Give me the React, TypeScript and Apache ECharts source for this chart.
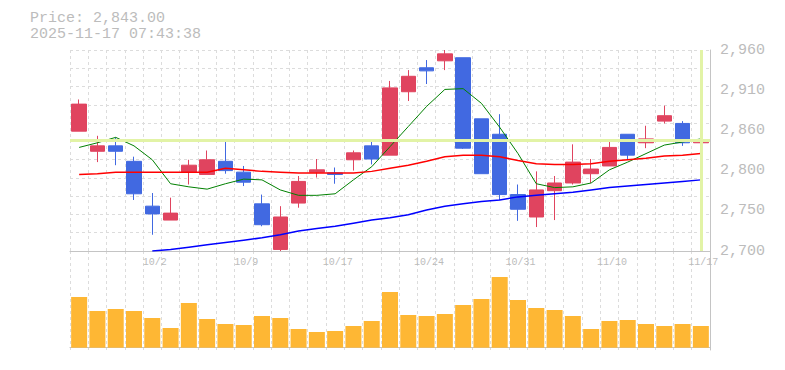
import React, { useEffect, useRef } from 'react';
import * as echarts from 'echarts';

const headerPrice = 'Price: 2,843.00';
const headerTime = '2025-11-17 07:43:38';

const dates = [
  '9/26', '9/29', '9/30', '10/1', '10/2', '10/3', '10/6', '10/7', '10/8', '10/9',
  '10/10', '10/14', '10/15', '10/16', '10/17', '10/20', '10/21', '10/22', '10/23', '10/24',
  '10/27', '10/28', '10/29', '10/30', '10/31', '11/4', '11/5', '11/6', '11/7', '11/10',
  '11/11', '11/12', '11/13', '11/14', '11/17',
];

const opens = [
  2855, 2829, 2836, 2816, 2758, 2740, 2802, 2799, 2816, 2802,
  2761, 2702, 2762, 2802, 2801, 2818, 2836, 2824, 2906, 2937,
  2946, 2950, 2871, 2851, 2773, 2744, 2778, 2788, 2800, 2810,
  2851, 2840, 2868, 2865, 2840,
];
const closes = [
  2890, 2836, 2829, 2774, 2748, 2749, 2811, 2818, 2804, 2789,
  2734, 2744, 2790, 2805, 2799, 2827, 2819, 2911, 2926, 2933,
  2955, 2833, 2800, 2773, 2754, 2779, 2788, 2815, 2806, 2834,
  2824, 2845, 2875, 2840, 2843,
];
const lows = [
  2855, 2815, 2811, 2766, 2721, 2740, 2786, 2799, 2800, 2784,
  2732, 2700, 2756, 2795, 2787, 2804, 2812, 2824, 2894, 2916,
  2934, 2832, 2800, 2766, 2739, 2731, 2740, 2786, 2788, 2810,
  2818, 2833, 2865, 2836, 2837,
];
const highs = [
  2896, 2849, 2847, 2822, 2775, 2769, 2818, 2830, 2841, 2810,
  2773, 2758, 2797, 2819, 2808, 2830, 2844, 2920, 2934, 2947,
  2960, 2950, 2871, 2877, 2786, 2803, 2797, 2838, 2819, 2843,
  2851, 2862, 2888, 2868, 2856,
];

const ma5 = [
  2834, 2840, 2847, 2836, 2818, 2787, 2783, 2780, 2787, 2793,
  2792, 2779, 2772, 2772, 2774, 2792, 2809, 2835, 2861, 2887,
  2909, 2910, 2891, 2860, 2826, 2787, 2782, 2783, 2788, 2805,
  2815, 2826, 2837, 2841, 2845,
];
const ma25 = [
  2799, 2800, 2802, 2802, 2802, 2802, 2802, 2802, 2807, 2805,
  2803, 2802, 2801, 2801, 2801, 2801, 2803, 2807, 2811, 2816,
  2822, 2824, 2824, 2822, 2817, 2813, 2812, 2812, 2813, 2816,
  2818, 2820, 2823, 2824, 2826,
];
const ma75 = [
  null, null, null, null, 2700, 2702, 2705, 2708, 2711, 2714,
  2717, 2721, 2726, 2729, 2732, 2736, 2740, 2743, 2747, 2753,
  2758, 2761, 2764, 2766, 2770, 2772, 2774, 2776, 2779, 2782,
  2784, 2786, 2788, 2790, 2792,
];

const volumes = [
  507, 367, 387, 367, 297, 197, 447, 287, 237, 227,
  317, 297, 187, 157, 167, 217, 267, 557, 327, 317,
  337, 427, 487, 707, 477, 397, 377, 317, 187, 267,
  277, 237, 217, 237, 217,
];

const currentPrice = 2843;
const currentDate = '11/17';
const priceMin = 2700;
const priceMax = 2960;
const priceTickValues = [2700, 2752, 2804, 2856, 2908, 2960];

export default function App() {
  const ref = useRef<HTMLDivElement>(null);

  useEffect(() => {
    if (!ref.current) return;
    const chart = echarts.init(ref.current, null, { renderer: 'svg' });
    const font = 'Liberation Mono';
    const textGray = '#bcbcbc';
    const gridColor = '#dcdcdc';
    const axisColor = '#c4c4c4';
    const up = '#e0445f';
    const down = '#4169e1';
    const ohlc = dates.map((_, i) => [opens[i], closes[i], lows[i], highs[i]]);
    const dashed = { show: true, interval: 0, lineStyle: { color: gridColor, type: [3, 3], width: 1 } };

    chart.setOption({
      animation: false,
      title: {
        left: 30,
        top: 11,
        padding: 0,
        itemGap: 1,
        text: headerPrice,
        subtext: headerTime,
        textStyle: { fontFamily: font, fontSize: 15, fontWeight: 'normal', color: textGray, lineHeight: 15 },
        subtextStyle: { fontFamily: font, fontSize: 15, fontWeight: 'normal', color: textGray, lineHeight: 15 },
      },
      grid: [
        { left: 70, top: 50, width: 640, height: 201 },
        { left: 70, top: 251, width: 640, height: 99 },
      ],
      xAxis: [
        {
          type: 'category',
          gridIndex: 0,
          data: dates,
          boundaryGap: true,
          axisLine: { show: true, lineStyle: { color: axisColor } },
          axisTick: { show: false },
          axisLabel: {
            interval: (i: number) => i % 5 === 4,
            color: textGray,
            fontFamily: font,
            fontSize: 10,
            margin: 6,
            padding: [0, 0, 0, 5],
          },
          splitLine: dashed,
        },
        {
          type: 'category',
          gridIndex: 1,
          data: dates,
          boundaryGap: true,
          axisLine: { show: true, lineStyle: { color: axisColor } },
          axisTick: { show: false },
          axisLabel: { show: false },
          splitLine: dashed,
        },
      ],
      yAxis: [
        {
          type: 'value',
          gridIndex: 0,
          position: 'right',
          min: priceMin,
          max: priceMax,
          axisLine: { show: true, lineStyle: { color: axisColor } },
          axisTick: { show: false },
          splitLine: { show: false },
          axisLabel: {
            customValues: priceTickValues,
            formatter: (v: number) => (Math.round(v / 10) * 10).toLocaleString('en-US'),
            color: textGray,
            fontFamily: font,
            fontSize: 15,
            margin: 10,
          },
        },
        {
          type: 'value',
          gridIndex: 0,
          position: 'left',
          min: 0,
          max: 11,
          interval: 1,
          axisLine: { show: false },
          axisTick: { show: false },
          axisLabel: { show: false },
          splitLine: { show: true, lineStyle: { color: gridColor, type: [3, 3], width: 1 } },
        },
        {
          type: 'value',
          gridIndex: 1,
          position: 'right',
          min: -23,
          max: 967,
          axisLine: { show: true, lineStyle: { color: axisColor } },
          axisTick: { show: false },
          axisLabel: { show: false },
          splitLine: { show: false },
        },
      ],
      series: [
        {
          type: 'line',
          xAxisIndex: 0,
          yAxisIndex: 0,
          data: [],
          z: 1,
          markLine: {
            silent: true,
            symbol: 'none',
            label: { show: false },
            lineStyle: { color: '#e2f3a6', width: 3, type: 'solid' },
            data: [{ yAxis: currentPrice }, { xAxis: currentDate }],
          },
        },
        {
          type: 'candlestick',
          xAxisIndex: 0,
          yAxisIndex: 0,
          data: ohlc,
          barWidth: 15,
          z: 2,
          itemStyle: { color: up, color0: down, borderColor: up, borderColor0: down, borderWidth: 1 },
        },
        {
          type: 'line',
          xAxisIndex: 0,
          yAxisIndex: 0,
          data: ma5,
          symbol: 'none',
          showSymbol: false,
          z: 3,
          lineStyle: { color: '#008000', width: 1 },
        },
        {
          type: 'line',
          xAxisIndex: 0,
          yAxisIndex: 0,
          data: ma25,
          symbol: 'none',
          showSymbol: false,
          z: 3,
          lineStyle: { color: '#ff0000', width: 1.5 },
        },
        {
          type: 'line',
          xAxisIndex: 0,
          yAxisIndex: 0,
          data: ma75,
          symbol: 'none',
          showSymbol: false,
          z: 3,
          lineStyle: { color: '#0000ff', width: 1.5 },
        },
        {
          type: 'bar',
          xAxisIndex: 1,
          yAxisIndex: 2,
          data: volumes,
          barWidth: 16,
          itemStyle: { color: '#feb734' },
        },
      ],
    });

    return () => chart.dispose();
  }, []);

  return <div ref={ref} style={{ position: 'absolute', left: 0, top: 0, width: 785, height: 370 }} />;
}
